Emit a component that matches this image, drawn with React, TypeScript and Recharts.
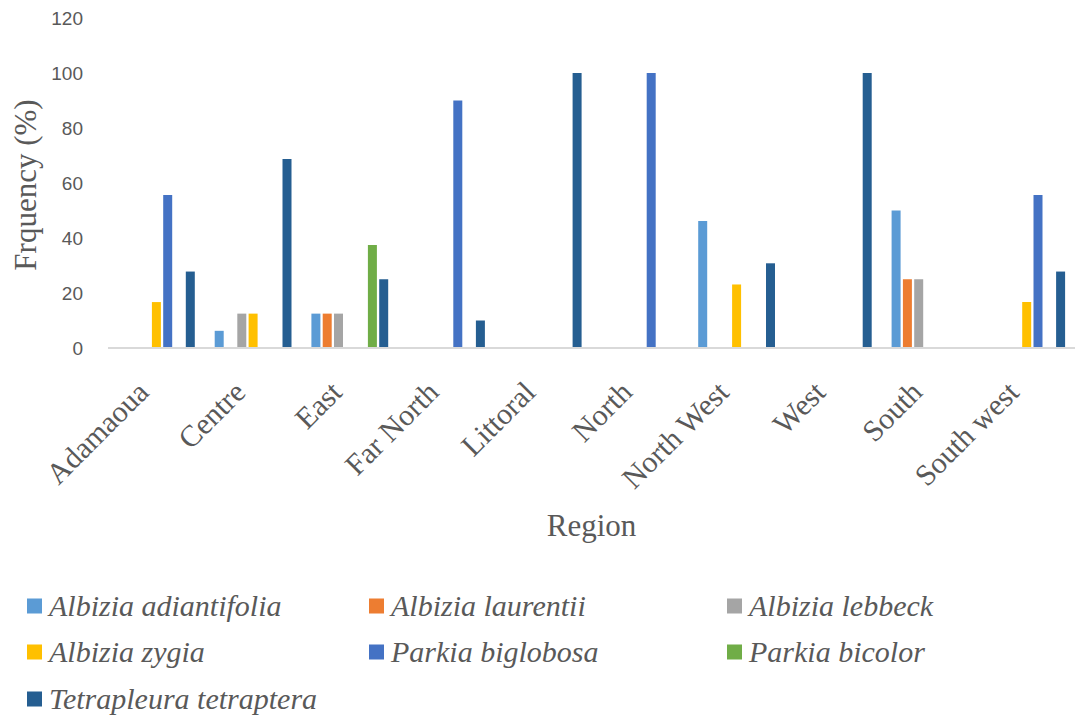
import React from 'react';
import { BarChart, Bar, XAxis, YAxis, Legend, Label } from 'recharts';

const regions = ['Adamaoua', 'Centre', 'East', 'Far North', 'Littoral', 'North', 'North West', 'West', 'South', 'South west'];

const albiziaAdiantifolia = [0, 6.25, 12.5, 0, 0, 0, 46.2, 0, 50, 0];
const albiziaLaurentii = [0, 0, 12.5, 0, 0, 0, 0, 0, 25, 0];
const albiziaLebbeck = [0, 12.5, 12.5, 0, 0, 0, 0, 0, 25, 0];
const albiziaZygia = [16.7, 12.5, 0, 0, 0, 0, 23.1, 0, 0, 16.7];
const parkiaBiglobosa = [55.6, 0, 0, 90, 0, 100, 0, 0, 0, 55.6];
const parkiaBicolor = [0, 0, 37.5, 0, 0, 0, 0, 0, 0, 0];
const tetrapleuraTetraptera = [27.8, 68.75, 25, 10, 100, 0, 30.8, 100, 0, 27.8];

const yTicks = [0, 20, 40, 60, 80, 100, 120];

const seriesDefs = [
  { key: 'aa', name: 'Albizia adiantifolia', color: '#5B9BD5', values: albiziaAdiantifolia },
  { key: 'al', name: 'Albizia laurentii', color: '#ED7D31', values: albiziaLaurentii },
  { key: 'alb', name: 'Albizia lebbeck', color: '#A5A5A5', values: albiziaLebbeck },
  { key: 'az', name: 'Albizia zygia', color: '#FFC000', values: albiziaZygia },
  { key: 'pbg', name: 'Parkia biglobosa', color: '#4472C4', values: parkiaBiglobosa },
  { key: 'pbc', name: 'Parkia bicolor', color: '#70AD47', values: parkiaBicolor },
  { key: 'tt', name: 'Tetrapleura tetraptera', color: '#255E91', values: tetrapleuraTetraptera },
];

const data = regions.map((r, i) => {
  const row: Record<string, any> = { region: r };
  seriesDefs.forEach((s) => {
    row[s.key] = s.values[i];
  });
  return row;
});

const SERIF = '"Liberation Serif", "Times New Roman", serif';
const SANS = '"Liberation Sans", Arial, sans-serif';
const TEXT = '#595959';

const XTick = (props: any) => {
  const { x, payload } = props;
  const ax = x - 6;
  const ay = 394;
  return (
    <text
      x={ax}
      y={ay}
      transform={`rotate(-45, ${ax}, ${ay})`}
      textAnchor="end"
      fontFamily={SERIF}
      fontSize={30}
      fill={TEXT}
    >
      {payload.value}
    </text>
  );
};

const YTick = (props: any) => {
  const { y, payload } = props;
  return (
    <text x={83} y={y} textAnchor="end" dominantBaseline="central" fontFamily={SANS} fontSize={19} fill={TEXT}>
      {payload.value}
    </text>
  );
};

const legendPos = [
  { x: 27, y: 606 },
  { x: 369, y: 606 },
  { x: 727, y: 606 },
  { x: 27, y: 652 },
  { x: 369, y: 652 },
  { x: 727, y: 652 },
  { x: 27, y: 699 },
];

const LEGEND_TOP = 580;

const LegendContent = () => (
  <svg width={1080} height={141} style={{ display: 'block' }}>
    {seriesDefs.map((s, i) => {
      const cx = legendPos[i].x;
      const cy = legendPos[i].y - LEGEND_TOP;
      return (
        <g key={s.key}>
          <rect x={cx} y={cy - 7.5} width={15} height={15} fill={s.color} />
          <text x={cx + 22} y={cy + 10} fontFamily={SERIF} fontStyle="italic" fontSize={30} fill={TEXT}>
            {s.name}
          </text>
        </g>
      );
    })}
  </svg>
);

export default function App() {
  return (
    <div style={{ position: 'absolute', left: 0, top: 0, width: 1080, height: 721, background: '#fff' }}>
      <BarChart
        width={1080}
        height={721}
        data={data}
        margin={{ top: 18, right: 5, left: 0, bottom: 0 }}
        barSize={9}
        barGap={2.3}
      >
        <XAxis
          dataKey="region"
          height={373}
          interval={0}
          tickLine={false}
          axisLine={{ stroke: '#D9D9D9', strokeWidth: 2 }}
          tick={<XTick />}
        >
          <Label
            content={(p: any) => {
              const vb = p.viewBox || { x: 108, width: 967 };
              return (
                <text
                  x={vb.x + vb.width / 2}
                  y={525}
                  textAnchor="middle"
                  dominantBaseline="central"
                  fontFamily={SERIF}
                  fontSize={31}
                  fill={TEXT}
                >
                  Region
                </text>
              );
            }}
          />
        </XAxis>
        <YAxis
          width={108}
          domain={[0, 120]}
          ticks={yTicks}
          interval={0}
          axisLine={false}
          tickLine={false}
          tick={<YTick />}
        >
          <Label
            content={() => (
              <text
                x={25}
                y={185}
                transform="rotate(-90, 25, 185)"
                textAnchor="middle"
                dominantBaseline="central"
                fontFamily={SERIF}
                fontSize={31}
                fill={TEXT}
              >
                Frquency (%)
              </text>
            )}
          />
        </YAxis>
        <Legend
          layout="horizontal"
          verticalAlign="middle"
          align="center"
          wrapperStyle={{ position: 'absolute', top: LEGEND_TOP, left: 0, width: 1080, height: 141 }}
          content={<LegendContent />}
        />
        {seriesDefs.map((s) => (
          <Bar key={s.key} dataKey={s.key} name={s.name} fill={s.color} isAnimationActive={false} />
        ))}
      </BarChart>
    </div>
  );
}
